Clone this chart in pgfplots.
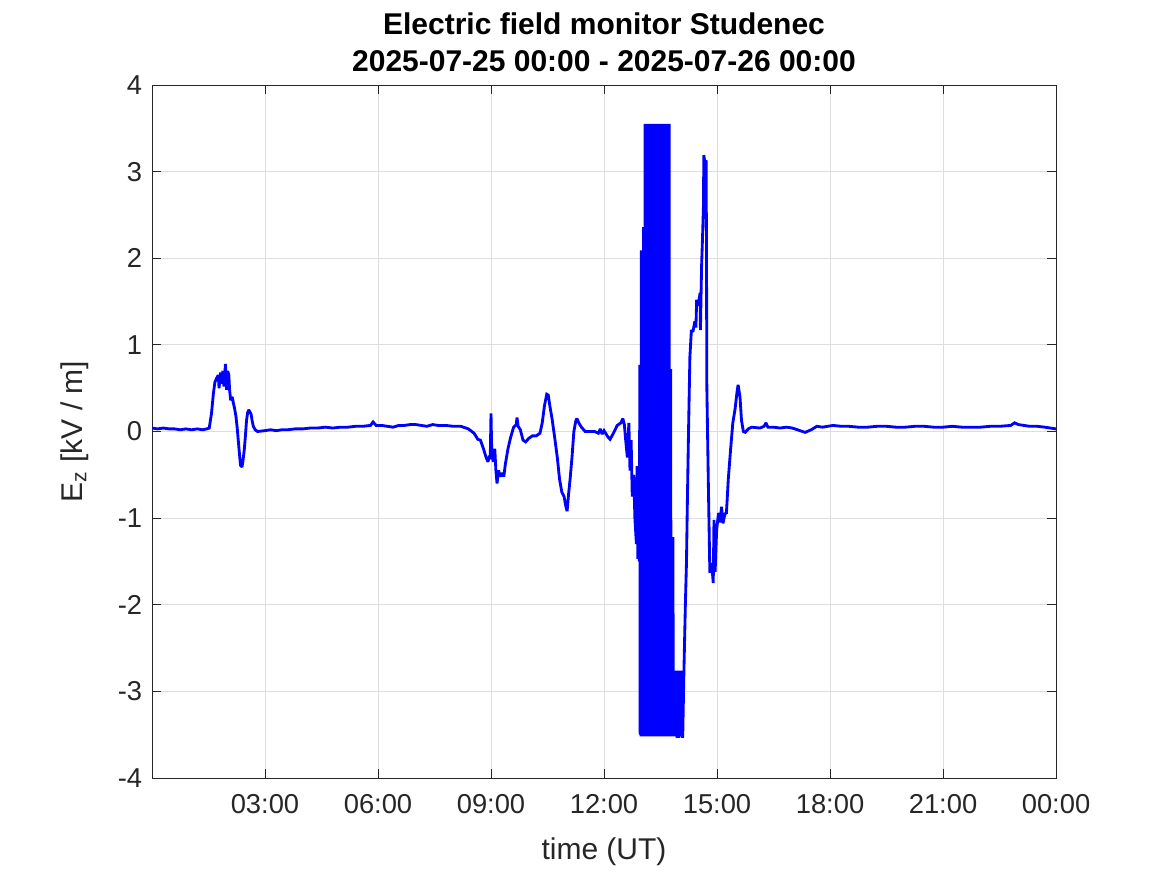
\documentclass[border=0pt]{standalone}
\usepackage{pgfplots}
\pgfplotsset{compat=1.18}
\usepackage{fontspec}
\setmainfont{Liberation Sans}
\definecolor{axgray}{RGB}{38,38,38}
\definecolor{gridgray}{RGB}{222,222,222}

\begin{document}
\begin{tikzpicture}
\useasboundingbox (-91.2pt,-58.2pt) rectangle (609pt,466.8pt);
\begin{axis}[
  scale only axis,
  width=542.4pt, height=415.8pt,
  xmin=0, xmax=24, ymin=-4, ymax=4,
  xtick={3,6,9,12,15,18,21,24},
  xticklabels={03:00,06:00,09:00,12:00,15:00,18:00,21:00,00:00},
  ytick={-4,-3,-2,-1,0,1,2,3,4},
  tick align=inside,
  major tick length=5.4pt,
  grid=major,
  major grid style={gridgray, line width=0.6pt},
  axis line style={axgray, line width=0.6pt},
  tick style={axgray, line width=0.6pt},
  /pgf/number format/assume math mode=true,
  ticklabel style={font=\fontsize{16.4}{18}\selectfont, text=axgray},
  xticklabel style={yshift=-6.6pt},
  yticklabel style={xshift=-2.4pt},
  clip=true,
]
\addplot[color=blue, line width=1.7pt, line join=miter, miter limit=2] coordinates {
(0.00,0.04) (0.15,0.03) (0.30,0.04) (0.45,0.03) (0.60,0.03) (0.75,0.02) (0.90,0.03)
(1.05,0.02) (1.20,0.03) (1.35,0.02) (1.45,0.03)
(1.52,0.04) (1.58,0.21) (1.63,0.44) (1.67,0.57) (1.72,0.62) (1.76,0.65)
(1.78,0.50) (1.82,0.68) (1.85,0.55) (1.88,0.70) (1.91,0.52) (1.95,0.78)
(1.98,0.48) (2.01,0.70) (2.04,0.65) (2.06,0.48) (2.09,0.36) (2.13,0.40)
(2.16,0.33) (2.20,0.25) (2.23,0.17) (2.26,0.05) (2.29,-0.10) (2.32,-0.25)
(2.35,-0.39) (2.39,-0.41) (2.42,-0.32) (2.45,-0.21) (2.48,-0.05) (2.51,0.13)
(2.54,0.22) (2.57,0.25) (2.63,0.20) (2.66,0.12) (2.69,0.06) (2.74,0.02)
(2.80,0.00) (3.00,0.01) (3.15,0.02) (3.30,0.01) (3.45,0.02) (3.60,0.02) (3.80,0.03)
(4.00,0.03) (4.20,0.04) (4.40,0.04) (4.60,0.05) (4.80,0.04) (5.00,0.05) (5.20,0.05)
(5.40,0.06) (5.60,0.06) (5.80,0.07) (5.87,0.11) (5.95,0.07)
(6.10,0.07) (6.25,0.06) (6.40,0.05) (6.55,0.07) (6.70,0.07) (6.85,0.08) (7.00,0.08)
(7.15,0.07) (7.30,0.06) (7.45,0.08) (7.60,0.07) (7.80,0.07)
(8.00,0.06) (8.20,0.06) (8.40,0.03) (8.55,-0.02) (8.65,-0.09) (8.72,-0.10)
(8.80,-0.20) (8.87,-0.30) (8.92,-0.35) (8.96,-0.28) (8.98,-0.32) (9.00,0.21)
(9.02,-0.25) (9.06,-0.35) (9.10,-0.20) (9.13,-0.45) (9.16,-0.60) (9.20,-0.45)
(9.25,-0.52) (9.30,-0.48) (9.34,-0.52) (9.38,-0.38) (9.45,-0.20) (9.52,-0.07)
(9.60,0.05) (9.67,0.08) (9.69,0.16) (9.72,0.06) (9.78,0.02) (9.85,-0.10)
(9.92,-0.12) (10.00,-0.08) (10.10,-0.05) (10.20,-0.05) (10.30,-0.02) (10.36,0.10)
(10.42,0.30) (10.48,0.43) (10.52,0.42) (10.56,0.30) (10.62,0.15) (10.70,-0.10)
(10.76,-0.30) (10.82,-0.55) (10.88,-0.70) (10.94,-0.75) (10.98,-0.85) (11.02,-0.92)
(11.06,-0.72) (11.10,-0.55) (11.15,-0.30) (11.20,0.00) (11.25,0.12) (11.28,0.15)
(11.33,0.10) (11.40,0.05) (11.50,0.00) (11.60,0.00) (11.75,0.00) (11.85,-0.02)
(11.90,0.03) (11.95,-0.03) (12.00,0.01) (12.10,-0.06) (12.16,-0.09) (12.25,-0.02)
(12.35,0.07) (12.45,0.10) (12.50,0.15) (12.54,0.08) (12.58,-0.12) (12.62,-0.30)
(12.66,0.10) (12.69,-0.45) (12.72,-0.10) (12.75,-0.75) (12.79,-0.50) (12.82,-1.00)
(12.86,-1.30) (12.88,-0.40) (12.90,-1.47) (12.92,-1.00) (12.94,-1.50)
(12.95,0.77) (12.96,-3.50) (12.97,0.77) (12.98,-3.52) (12.99,2.09) (13.00,-3.52)
(13.01,2.09) (13.02,-3.52) (13.03,2.09) (13.04,-3.52) (13.05,2.36) (13.06,-3.52)
(13.07,2.36) (13.08,-3.52) (13.09,3.55) (13.10,-3.52) (13.11,3.55) (13.12,-3.52)
(13.13,3.55) (13.14,-3.52) (13.15,3.55) (13.16,-3.52) (13.17,3.55) (13.18,-3.52)
(13.19,3.55) (13.20,-3.52) (13.21,3.55) (13.22,-3.52) (13.23,3.55) (13.24,-3.52)
(13.25,3.55) (13.26,-3.52) (13.27,3.55) (13.28,-3.52) (13.29,3.55) (13.30,-3.52)
(13.31,3.55) (13.32,-3.52) (13.33,3.55) (13.34,-3.52) (13.35,3.55) (13.36,-3.52)
(13.37,3.55) (13.38,-3.52) (13.39,3.55) (13.40,-3.52) (13.41,3.55) (13.42,-3.52)
(13.43,3.55) (13.44,-3.52) (13.45,3.55) (13.46,-3.52) (13.47,3.55) (13.48,-3.52)
(13.49,3.55) (13.50,-0.62) (13.51,3.55) (13.52,-0.62) (13.53,3.55) (13.54,-3.52)
(13.55,3.55) (13.56,-3.52) (13.57,3.55) (13.58,-3.52) (13.59,3.55) (13.60,-3.52)
(13.61,3.55) (13.62,-3.52) (13.63,3.55) (13.64,-3.52) (13.65,3.55) (13.66,-3.52)
(13.67,3.55) (13.68,-3.52) (13.69,3.55) (13.70,-3.52) (13.71,3.55) (13.72,-3.52)
(13.73,3.55) (13.74,-3.52) (13.75,0.72) (13.76,-3.52) (13.77,0.72) (13.78,-3.52)
(13.79,-1.22) (13.80,-3.52) (13.81,-1.22) (13.82,-3.52) (13.83,-1.22) (13.84,-3.52)
(13.85,-2.76) (13.86,-3.52) (13.87,-2.76) (13.88,-3.52) (13.89,-2.76) (13.90,-3.52)
(13.91,-2.76) (13.92,-3.52) (13.93,-2.76) (13.94,-3.52) (13.96,-3.52) (13.98,-3.52)
(13.99,-2.76) (14.00,-3.52) (14.01,-2.76) (14.02,-3.52) (14.03,-2.76) (14.04,-3.52)
(14.05,-2.76) (14.06,-3.52) (14.07,-2.76) (14.08,-3.52) (14.09,-3.52)
(14.12,-2.80) (14.16,-2.00) (14.19,-1.50) (14.21,-0.90) (14.24,-0.10) (14.28,0.86)
(14.32,1.17) (14.36,1.15) (14.41,1.27) (14.44,1.20) (14.46,1.52) (14.50,1.45)
(14.55,1.60) (14.56,1.17) (14.59,1.90) (14.62,2.30) (14.64,2.60) (14.65,3.19)
(14.68,3.10) (14.71,3.13) (14.72,2.21) (14.73,0.52) (14.77,-0.60) (14.81,-1.63)
(14.86,-1.52) (14.90,-1.75) (14.92,-1.02) (14.95,-1.62) (14.99,-1.14) (15.04,-0.94)
(15.08,-1.05) (15.12,-0.87) (15.16,-1.06) (15.21,-0.95) (15.25,-0.94) (15.30,-0.55)
(15.36,-0.21) (15.42,0.10) (15.48,0.26) (15.53,0.45) (15.56,0.54) (15.61,0.40)
(15.65,0.13) (15.70,0.00) (15.75,-0.01) (15.83,0.03) (15.92,0.05) (16.14,0.04)
(16.25,0.06) (16.30,0.10) (16.35,0.05) (16.50,0.05) (16.67,0.04) (16.85,0.05)
(17.00,0.04) (17.20,0.01) (17.34,-0.01) (17.50,0.02) (17.65,0.06) (17.80,0.05)
(18.08,0.07) (18.30,0.06) (18.50,0.06) (18.75,0.05) (19.00,0.05) (19.25,0.06)
(19.50,0.06) (19.75,0.05) (20.00,0.05) (20.25,0.06) (20.50,0.06) (20.75,0.05)
(21.00,0.05) (21.25,0.06) (21.50,0.05) (21.75,0.05) (22.00,0.05) (22.25,0.06)
(22.50,0.06) (22.80,0.07) (22.90,0.10) (23.00,0.08) (23.30,0.06) (23.50,0.06)
(23.70,0.05) (24.00,0.03)
};
\end{axis}
\node[anchor=base, font=\bfseries\fontsize{18}{22}\selectfont] at (271.2pt,445.8pt) {Electric field monitor Studenec};
\node[anchor=base, font=\bfseries\fontsize{18}{22}\selectfont] at (271.2pt,423.6pt) {2025-07-25 00:00 - 2025-07-26 00:00};
\node[anchor=base, font=\fontsize{18}{22}\selectfont, text=axgray] at (271.2pt,-48.6pt) {time (UT)};
\node[anchor=base, rotate=90, font=\fontsize{18}{22}\selectfont, text=axgray] at (-42pt,207.9pt) {E\textsubscript{z} [kV / m]};
\end{tikzpicture}
\end{document}
